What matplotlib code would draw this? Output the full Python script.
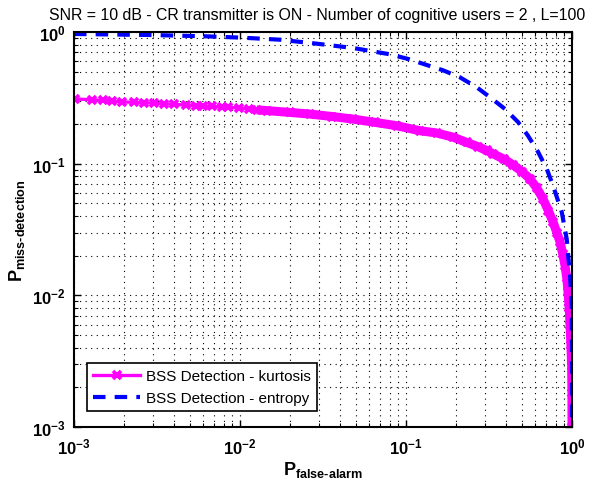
import matplotlib
matplotlib.use("Agg")
import matplotlib.pyplot as plt
from matplotlib.ticker import LogLocator, LogFormatterSciNotation

plt.rcParams['font.family'] = ['Liberation Sans', 'DejaVu Sans']
plt.rcParams['mathtext.fontset'] = 'custom'
plt.rcParams['mathtext.rm'] = 'Liberation Sans'
plt.rcParams['mathtext.bf'] = 'Liberation Sans:bold'

pfa_kurt = [0.00101, 0.00128, 0.00150, 0.00170, 0.00195, 0.00230, 0.00265,
            0.00305, 0.00350, 0.00400, 0.00470, 0.00540, 0.00600, 0.00680,
            0.00780, 0.00850, 0.00980, 0.0113, 0.0126, 0.0145, 0.0200, 0.0264,
            0.0360, 0.048, 0.065, 0.088, 0.121, 0.153, 0.192, 0.232, 0.270,
            0.306, 0.334, 0.390, 0.441, 0.500, 0.559, 0.615, 0.669, 0.720,
            0.769, 0.810, 0.847, 0.880, 0.908, 0.930, 0.946, 0.962, 0.973,
            0.985, 0.995, 0.999, 1.0]
pmd_kurt = [0.310, 0.306, 0.302, 0.299, 0.295, 0.292, 0.290,
            0.288, 0.285, 0.282, 0.279, 0.276, 0.274, 0.272,
            0.270, 0.268, 0.265, 0.261, 0.256, 0.253, 0.245, 0.238,
            0.228, 0.218, 0.206, 0.194, 0.178, 0.171, 0.159, 0.145, 0.135,
            0.126, 0.119, 0.108, 0.098, 0.087, 0.0765, 0.065, 0.054, 0.044,
            0.036, 0.030, 0.0254, 0.0205, 0.0168, 0.0135, 0.0106, 0.0080, 0.0059,
            0.0042, 0.0029, 0.0018, 0.0010]

pfa_ent = [0.001, 0.00287, 0.0063, 0.0104, 0.0174, 0.029, 0.048, 0.080,
           0.103, 0.167, 0.211, 0.267, 0.321, 0.395, 0.473, 0.543, 0.624,
           0.705, 0.769, 0.867, 0.929, 0.973, 0.996, 0.999, 1.0]
pmd_ent = [0.966, 0.949, 0.927, 0.905, 0.874, 0.815, 0.756, 0.677,
           0.624, 0.512, 0.453, 0.380, 0.319, 0.260, 0.207, 0.163, 0.123,
           0.091, 0.068, 0.043, 0.0268, 0.0141, 0.00835, 0.0044, 0.0010]

title = 'SNR = 10 dB - CR transmitter is ON - Number of cognitive users = 2 , L=100'

fig = plt.figure(figsize=(5.93, 4.81), dpi=100)
ax = fig.add_axes([0.1248, 0.1102, 0.8398, 0.8212])

# thick band where the markers overlap
ax.plot(pfa_kurt[18:], pmd_kurt[18:], color='#ff00ff', lw=6.5, solid_capstyle='butt')
ax.plot(pfa_kurt, pmd_kurt, color='#ff00ff', lw=2.4, marker='x', ms=6,
        mew=2.6, label='BSS Detection - kurtosis')
ax.plot(pfa_ent, pmd_ent, color='#0000ff', lw=3, ls=(0, (3, 2.2)),
        label='BSS Detection - entropy')

ax.set_xscale('log')
ax.set_yscale('log')
ax.set_xlim(1e-3, 1)
ax.set_ylim(1e-3, 1)

for axis in (ax.xaxis, ax.yaxis):
    axis.set_major_locator(LogLocator(base=10, numticks=10))
    axis.set_minor_locator(LogLocator(base=10, subs=range(2, 10), numticks=20))
    axis.set_major_formatter(LogFormatterSciNotation())

ax.grid(True, which='both', color='black', ls=(0, (1, 4)), lw=0.8)
ax.tick_params(which='both', direction='in', top=True, right=True)
ax.tick_params(which='major', length=5, width=1)
ax.tick_params(which='minor', length=3, width=0.8)
ax.tick_params(axis='x', which='major', pad=7)
ax.tick_params(axis='y', which='major', pad=6)
for lab in ax.get_xticklabels() + ax.get_yticklabels():
    lab.set_fontweight('bold')
    lab.set_fontsize(12)
for sp in ax.spines.values():
    sp.set_linewidth(1.5)

ax.set_xlabel('$\\mathregular{P_{false‐alarm}}$', fontsize=13, fontweight='bold',
              labelpad=2)
ax.set_ylabel('$\\mathregular{P_{miss‐detection}}$', fontsize=13, fontweight='bold')
ax.set_title(title, fontsize=11.4, pad=9, x=0.488)

leg = ax.legend(loc='lower left', bbox_to_anchor=(0.026, 0.04), fancybox=False,
                edgecolor='black', framealpha=1, fontsize=11,
                handlelength=3.1, handletextpad=0.35, borderaxespad=0)
leg.get_frame().set_linewidth(1.2)

fig.savefig('out.png', dpi=100)
